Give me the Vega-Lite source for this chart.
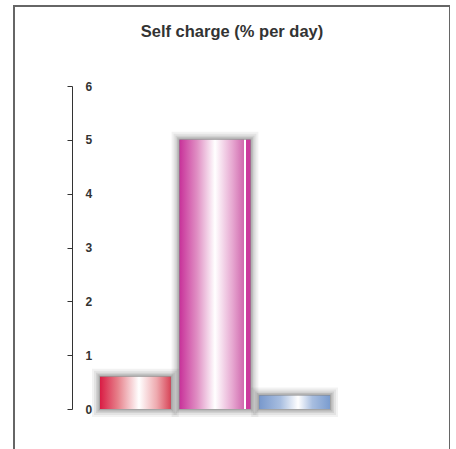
{
  "$schema": "https://vega.github.io/schema/vega-lite/v6.json",
  "autosize": "none",
  "padding": {"left": 14, "top": 6, "right": 0, "bottom": 0},
  "width": 436,
  "height": 460,
  "background": "white",
  "config": {"view": {"stroke": "#666666", "strokeWidth": 2}},
  "title": {
    "text": "Self charge (% per day)",
    "anchor": "middle",
    "frame": "group",
    "baseline": "alphabetic",
    "offset": -47,
    "font": "Liberation Sans",
    "fontSize": 16.5,
    "fontWeight": "bold",
    "color": "#333333"
  },
  "data": {
    "values": [
      {"cell": "A", "value": 0.6},
      {"cell": "B", "value": 5},
      {"cell": "C", "value": 0.25}
    ]
  },
  "encoding": {
    "x": {
      "field": "cell",
      "type": "nominal",
      "axis": null,
      "scale": {"range": [86, 316], "paddingInner": 0.11, "paddingOuter": 0}
    },
    "y": {
      "field": "value",
      "type": "quantitative",
      "scale": {"domain": [0, 6], "range": [403, 80], "nice": false},
      "axis": {
        "title": null,
        "grid": false,
        "offset": -58,
        "values": [0, 1, 2, 3, 4, 5, 6],
        "domainColor": "#333333",
        "tickColor": "#333333",
        "tickSize": 5,
        "labelAlign": "left",
        "labelPadding": -18,
        "labelFont": "Liberation Sans",
        "labelFontWeight": "bold",
        "labelFontSize": 12,
        "labelColor": "#333333"
      }
    }
  },
  "layer": [
    {"mark": {"type": "bar", "color": "#000000", "fillOpacity": 0.05, "stroke": "#000000", "strokeWidth": 16, "strokeOpacity": 0.05}},
    {"mark": {"type": "bar", "color": "#000000", "fillOpacity": 0.06, "stroke": "#000000", "strokeWidth": 12, "strokeOpacity": 0.06}},
    {"mark": {"type": "bar", "color": "#000000", "fillOpacity": 0.08, "stroke": "#000000", "strokeWidth": 8, "strokeOpacity": 0.08}},
    {"mark": {"type": "bar", "color": "#000000", "fillOpacity": 0.1, "stroke": "#000000", "strokeWidth": 5, "strokeOpacity": 0.1}},
    {"mark": {"type": "bar", "color": "#000000", "fillOpacity": 0.12, "stroke": "#000000", "strokeWidth": 2, "strokeOpacity": 0.12}},
    {
      "transform": [{"filter": "datum.cell === 'A'"}],
      "mark": {"type": "bar", "color": {"gradient": "linear", "x1": 0, "x2": 1, "y1": 0, "y2": 0,
        "stops": [
          {"offset": 0, "color": "#d91c44"},
          {"offset": 0.25, "color": "#e6808a"},
          {"offset": 0.55, "color": "#ffffff"},
          {"offset": 0.8, "color": "#eeaaaf"},
          {"offset": 1, "color": "#d84558"}
        ]}}
    },
    {
      "transform": [{"filter": "datum.cell === 'B'"}],
      "mark": {"type": "bar", "color": {"gradient": "linear", "x1": 0, "x2": 1, "y1": 0, "y2": 0,
        "stops": [
          {"offset": 0, "color": "#c8329a"},
          {"offset": 0.25, "color": "#e090c4"},
          {"offset": 0.5, "color": "#ffffff"},
          {"offset": 0.75, "color": "#e6a6d0"},
          {"offset": 0.91, "color": "#d068ae"},
          {"offset": 0.915, "color": "#ffffff"},
          {"offset": 0.935, "color": "#ffffff"},
          {"offset": 0.94, "color": "#cc3a9e"},
          {"offset": 1, "color": "#cc3a9e"}
        ]}}
    },
    {
      "transform": [{"filter": "datum.cell === 'C'"}],
      "mark": {"type": "bar", "color": {"gradient": "linear", "x1": 0, "x2": 1, "y1": 0, "y2": 0,
        "stops": [
          {"offset": 0, "color": "#7898cc"},
          {"offset": 0.3, "color": "#a8bee0"},
          {"offset": 0.55, "color": "#ffffff"},
          {"offset": 0.75, "color": "#a8bee0"},
          {"offset": 1, "color": "#7a9ccf"}
        ]}}
    }
  ]
}
